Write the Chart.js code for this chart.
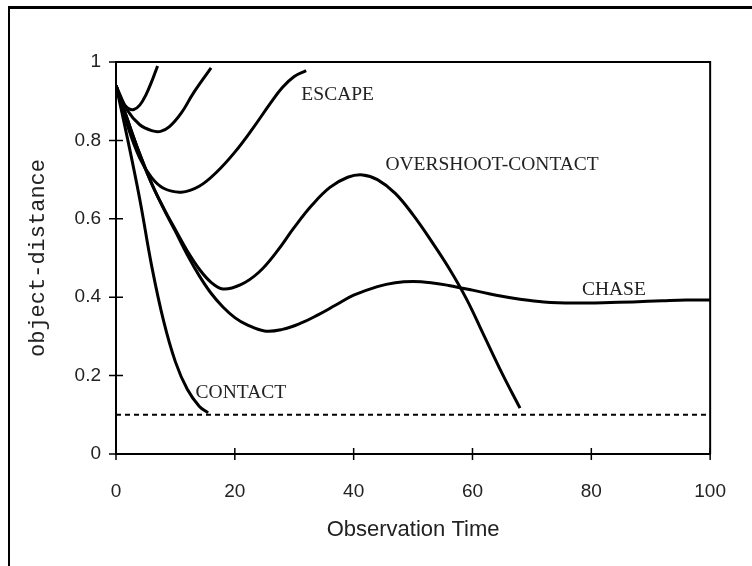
<!DOCTYPE html>
<html>
<head>
<meta charset="utf-8">
<script src="https://cdn.jsdelivr.net/npm/chart.js@4"></script>
<style>
  html, body { margin: 0; padding: 0; background: #fff; }
  #wrap { position: relative; width: 752px; height: 566px; overflow: hidden; }
  #frame { position: absolute; left: 8px; top: 6px; width: 760px; height: 580px;
           border-left: 2px solid #000; border-top: 3px solid #000; }
  canvas { position: absolute; left: 0; top: 0; }
</style>
</head>
<body>
<div id="wrap">
  <div id="frame"></div>
  <canvas id="c" width="752" height="566"></canvas>
</div>
<script>
// ---- data ----
const escape1X = [0, 1, 2, 3, 4, 5, 6, 7];
const escape1Y = [0.94, 0.90, 0.882, 0.879, 0.89, 0.915, 0.95, 0.99];

const escape2X = [0, 2, 4, 6, 7.5, 9, 11, 13, 16];
const escape2Y = [0.94, 0.875, 0.84, 0.825, 0.823, 0.835, 0.87, 0.92, 0.985];

const escape3X = [0, 2, 4, 6, 8, 11, 14, 17, 20, 23, 26, 28, 30, 32];
const escape3Y = [0.94, 0.835, 0.755, 0.705, 0.678, 0.668, 0.683, 0.72, 0.77, 0.83, 0.895, 0.935, 0.963, 0.978];

const overshootX = [0, 2, 4, 6, 8, 10, 12, 14, 16, 18, 21, 24, 27, 30, 33, 36, 39, 41.5, 44, 47, 50, 53, 56, 59, 62, 65, 68];
const overshootY = [0.94, 0.85, 0.765, 0.69, 0.628, 0.572, 0.518, 0.472, 0.438, 0.421, 0.432, 0.463, 0.515, 0.578, 0.635, 0.68, 0.706, 0.712, 0.70, 0.665, 0.61, 0.545, 0.475, 0.395, 0.30, 0.205, 0.117];

const chaseX = [0, 2, 4, 6, 8, 10, 12, 14, 16, 18, 20, 22, 25, 28, 31, 34, 37, 40, 44, 47, 50, 53, 56, 60, 64, 68, 72, 77, 82, 87, 92, 96, 100];
const chaseY = [0.94, 0.85, 0.765, 0.69, 0.626, 0.568, 0.508, 0.455, 0.41, 0.375, 0.348, 0.33, 0.314, 0.318, 0.333, 0.355, 0.38, 0.405, 0.427, 0.437, 0.44, 0.437, 0.43, 0.418, 0.405, 0.395, 0.388, 0.385, 0.386, 0.388, 0.391, 0.393, 0.393];

const contactX = [0, 2, 4, 6, 8, 10, 12, 14, 15.5];
const contactY = [0.94, 0.80, 0.65, 0.48, 0.34, 0.235, 0.165, 0.122, 0.105];

const thresholdX = [0, 100];
const thresholdY = [0.1, 0.1];

const xTicks = [0, 20, 40, 60, 80, 100];
const yTicks = [0, 0.2, 0.4, 0.6, 0.8, 1];

const curveLabels = ['ESCAPE', 'OVERSHOOT-CONTACT', 'CHASE', 'CONTACT'];
const labelX = [31.2, 63.3, 83.8, 13.4];
const labelY = [0.917, 0.737, 0.419, 0.155];
const labelAlign = ['left', 'center', 'center', 'left'];

// ---- build datasets ----
function pts(xs, ys) { return xs.map((x, i) => ({ x: x, y: ys[i] })); }
function curve(label, xs, ys) {
  return {
    label: label, data: pts(xs, ys),
    borderColor: '#000', borderWidth: 3, pointRadius: 0,
    tension: 0.4, fill: false
  };
}
const datasets = [
  curve('escape-1', escape1X, escape1Y),
  curve('escape-2', escape2X, escape2Y),
  curve('escape-3', escape3X, escape3Y),
  curve('overshoot-contact', overshootX, overshootY),
  curve('chase', chaseX, chaseY),
  curve('contact', contactX, contactY),
  {
    label: 'threshold', data: pts(thresholdX, thresholdY),
    borderColor: '#000', borderWidth: 2, borderDash: [5, 4], pointRadius: 0, tension: 0
  }
];

// ---- plugin: crossing tick marks, plot frame, curve labels ----
const decor = {
  id: 'decor',
  afterDraw(chart) {
    const ctx = chart.ctx;
    const xs = chart.scales.x, ys = chart.scales.y;
    const a = chart.chartArea;
    ctx.save();
    ctx.strokeStyle = '#000';
    ctx.lineWidth = 2;
    ctx.beginPath();
    ctx.moveTo(a.left, a.top); ctx.lineTo(a.right, a.top);
    ctx.lineTo(a.right, a.bottom);
    ctx.stroke();
    ctx.lineWidth = 1.5;
    ctx.beginPath();
    xTicks.forEach(v => {
      const px = xs.getPixelForValue(v);
      ctx.moveTo(px, a.bottom - 6); ctx.lineTo(px, a.bottom + 6);
    });
    yTicks.forEach(v => {
      const py = ys.getPixelForValue(v);
      ctx.moveTo(a.left - 7, py); ctx.lineTo(a.left + 7, py);
    });
    ctx.stroke();
    ctx.fillStyle = '#222';
    ctx.font = '19.5px "Liberation Serif", "Times New Roman", serif';
    ctx.textBaseline = 'middle';
    curveLabels.forEach((t, i) => {
      ctx.textAlign = labelAlign[i];
      ctx.fillText(t, xs.getPixelForValue(labelX[i]), ys.getPixelForValue(labelY[i]));
    });
    ctx.restore();
  }
};

new Chart(document.getElementById('c'), {
  type: 'line',
  data: { datasets: datasets },
  plugins: [decor],
  options: {
    responsive: false,
    animation: false,
    events: [],
    layout: { padding: { left: 0, top: 62, right: 39, bottom: 0 } },
    plugins: { legend: { display: false }, tooltip: { enabled: false } },
    scales: {
      x: {
        type: 'linear', min: 0, max: 100,
        afterBuildTicks: s => { s.ticks = xTicks.map(v => ({ value: v })); },
        afterFit: s => { s.height = 112; },
        grid: { display: true, drawOnChartArea: false, drawTicks: false },
        border: { display: true, color: '#000', width: 2 },
        ticks: { padding: 26, color: '#222', callback: v => String(v),
                 font: { family: '"Liberation Sans", Arial, sans-serif', size: 19 } },
        title: { display: true, text: 'Observation Time', color: '#222',
                 font: { family: '"Liberation Sans", Arial, sans-serif', size: 22 },
                 padding: { top: 0, bottom: 23 } }
      },
      y: {
        type: 'linear', min: 0, max: 1,
        afterBuildTicks: s => { s.ticks = yTicks.map(v => ({ value: v })); },
        afterFit: s => { s.width = 116; },
        grid: { display: true, drawOnChartArea: false, drawTicks: false },
        border: { display: true, color: '#000', width: 2 },
        ticks: { padding: 15, color: '#222', callback: v => String(Math.round(v * 10) / 10),
                 font: { family: '"Liberation Sans", Arial, sans-serif', size: 19 } },
        title: { display: true, text: 'object-distance', color: '#222',
                 font: { family: '"Liberation Mono", "Courier New", monospace', size: 22 },
                 padding: { top: 25, bottom: 0 } }
      }
    }
  }
});
</script>
</body>
</html>
